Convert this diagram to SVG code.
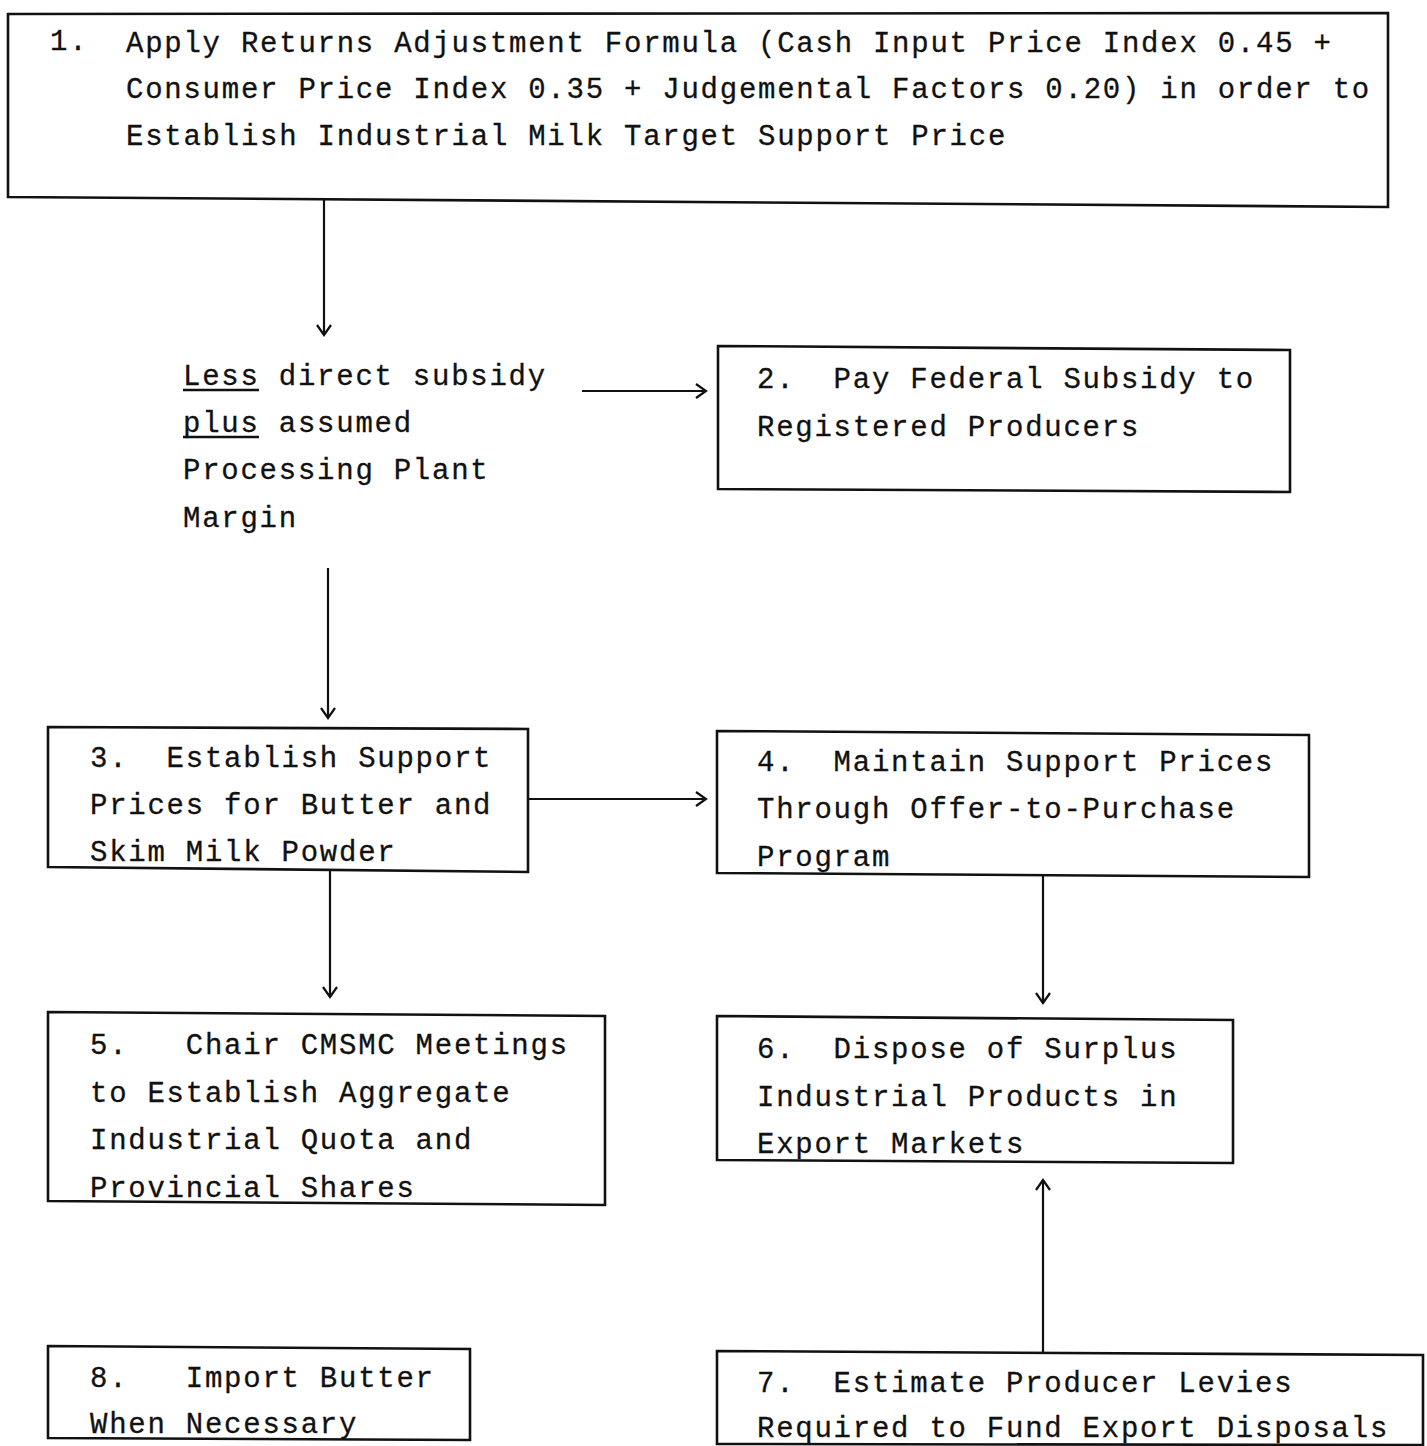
<svg xmlns="http://www.w3.org/2000/svg" width="1427" height="1446" viewBox="0 0 1427 1446">
  <defs>
    <style>
      .box { fill: none; stroke: #111; stroke-width: 2.6; stroke-linejoin: miter; }
      .lbl { font-family: "Liberation Mono", "Courier New", monospace; font-size: 29px; letter-spacing: 1.75px; fill: #111; stroke: #111; stroke-width: 0.3; white-space: pre; }
      .edge { fill: none; stroke: #111; stroke-width: 2.2; }
      .ul { stroke: #111; stroke-width: 2.4; }
    </style>
    <marker id="arrow" markerUnits="userSpaceOnUse" markerWidth="20" markerHeight="20" refX="12" refY="8" orient="auto">
      <path d="M2,1 L12,8 L2,15" fill="none" stroke="#111" stroke-width="2.2"/>
    </marker>
  </defs>
  <rect width="1427" height="1446" fill="#ffffff"/>

  <g id="connectors">
    <line class="edge" x1="324" y1="200" x2="324" y2="335" marker-end="url(#arrow)"/>
    <line class="edge" x1="582" y1="391" x2="706" y2="391" marker-end="url(#arrow)"/>
    <line class="edge" x1="328" y1="568" x2="328" y2="718" marker-end="url(#arrow)"/>
    <line class="edge" x1="528" y1="799" x2="706" y2="799" marker-end="url(#arrow)"/>
    <line class="edge" x1="330" y1="871" x2="330" y2="997" marker-end="url(#arrow)"/>
    <line class="edge" x1="1043" y1="876" x2="1043" y2="1003" marker-end="url(#arrow)"/>
    <line class="edge" x1="1043" y1="1352" x2="1043" y2="1180" marker-end="url(#arrow)"/>
  </g>

  <g id="node1">
    <polygon class="box" points="8,14 1388,13 1388,207 8,197"/>
    <text class="lbl" x="50" y="50">1.</text>
    <text class="lbl" x="126" y="52">Apply Returns Adjustment Formula (Cash Input Price Index 0.45 +</text>
    <text class="lbl" x="126" y="98">Consumer Price Index 0.35 + Judgemental Factors 0.20) in order to</text>
    <text class="lbl" x="126" y="145">Establish Industrial Milk Target Support Price</text>
  </g>

  <g id="subsidy-note">
    <text class="lbl" x="183" y="385">Less direct subsidy</text>
    <line class="ul" x1="183" y1="390" x2="259" y2="390"/>
    <text class="lbl" x="183" y="432">plus assumed</text>
    <line class="ul" x1="183" y1="437" x2="259" y2="437"/>
    <text class="lbl" x="183" y="479">Processing Plant</text>
    <text class="lbl" x="183" y="527">Margin</text>
  </g>

  <g id="node2">
    <polygon class="box" points="718,346 1290,350 1290,492 718,489"/>
    <text class="lbl" x="757" y="388">2.  Pay Federal Subsidy to</text>
    <text class="lbl" x="757" y="436">Registered Producers</text>
  </g>

  <g id="node3">
    <polygon class="box" points="48,727 528,729 528,872 48,867"/>
    <text class="lbl" x="90" y="767">3.  Establish Support</text>
    <text class="lbl" x="90" y="814">Prices for Butter and</text>
    <text class="lbl" x="90" y="861">Skim Milk Powder</text>
  </g>

  <g id="node4">
    <polygon class="box" points="717,731 1309,735 1309,877 717,873"/>
    <text class="lbl" x="757" y="771">4.  Maintain Support Prices</text>
    <text class="lbl" x="757" y="818">Through Offer-to-Purchase</text>
    <text class="lbl" x="757" y="866">Program</text>
  </g>

  <g id="node5">
    <polygon class="box" points="48,1012 605,1016 605,1205 48,1201"/>
    <text class="lbl" x="90" y="1054">5.   Chair CMSMC Meetings</text>
    <text class="lbl" x="90" y="1102">to Establish Aggregate</text>
    <text class="lbl" x="90" y="1149">Industrial Quota and</text>
    <text class="lbl" x="90" y="1197">Provincial Shares</text>
  </g>

  <g id="node6">
    <polygon class="box" points="717,1016 1233,1020 1233,1163 717,1160"/>
    <text class="lbl" x="757" y="1058">6.  Dispose of Surplus</text>
    <text class="lbl" x="757" y="1106">Industrial Products in</text>
    <text class="lbl" x="757" y="1153">Export Markets</text>
  </g>

  <g id="node7">
    <polygon class="box" points="717,1351 1423,1355 1423,1445 717,1444"/>
    <text class="lbl" x="757" y="1392">7.  Estimate Producer Levies</text>
    <text class="lbl" x="757" y="1437">Required to Fund Export Disposals</text>
  </g>

  <g id="node8">
    <polygon class="box" points="48,1346 470,1349 470,1440 48,1438"/>
    <text class="lbl" x="90" y="1387">8.   Import Butter</text>
    <text class="lbl" x="90" y="1433">When Necessary</text>
  </g>
</svg>
